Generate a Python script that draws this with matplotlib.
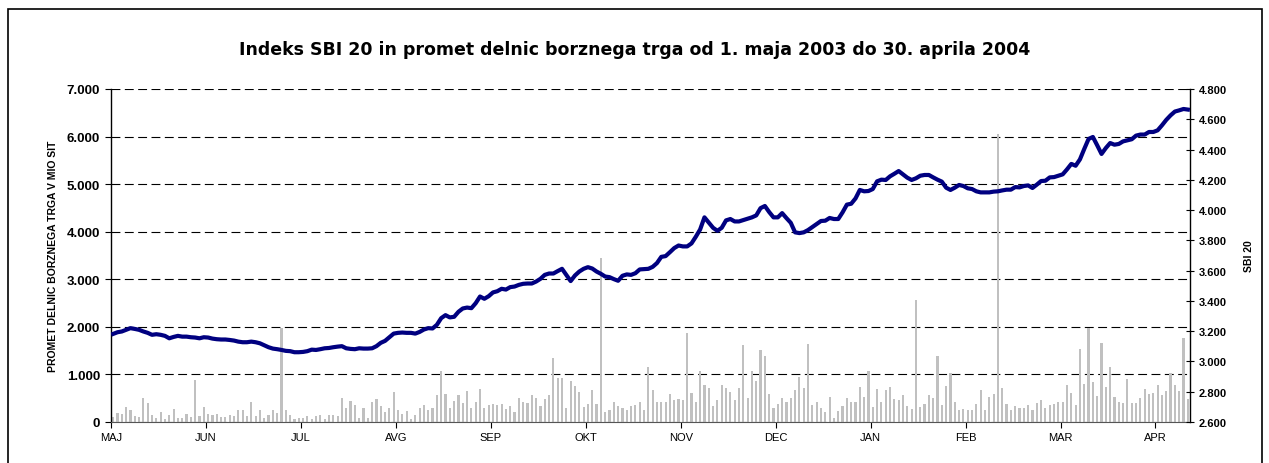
import numpy as np
import matplotlib
matplotlib.use("Agg")
import matplotlib.pyplot as plt
from matplotlib.patches import Rectangle
from matplotlib.ticker import FuncFormatter

plt.rcParams['font.family'] = ['Liberation Sans', 'DejaVu Sans']

# mesecne oznake (vsaka oznaka na 22 trgovalnih dni)
months = ['MAJ', 'JUN', 'JUL', 'AVG', 'SEP', 'OKT', 'NOV', 'DEC', 'JAN', 'FEB', 'MAR', 'APR']

# promet delnic v mio SIT (dnevno)
promet = [
    105, 190, 170, 325, 260, 125, 110, 513, 395, 140, 90, 220, 70, 155, 275, 90, 85, 170, 110, 890,
    125, 315, 170, 155, 170, 105, 110, 140, 125, 260, 260, 125, 410, 125, 260, 85, 140, 245, 195, 1980,
    260,
    140, 70, 85, 90, 125, 70, 125, 155, 70, 140, 155, 125, 513, 300, 445, 365, 90, 300, 90, 430,
    485, 335, 205, 290, 630, 260, 170, 230, 70, 140, 290, 365, 245, 300, 560, 1070, 590, 290, 445, 560,
    395, 645,
    290, 410, 695, 290, 350, 380, 365, 380, 275, 335, 220, 500, 430, 395, 575, 500, 335, 485, 560, 1350,
    935, 920, 300, 870, 765, 630, 315, 380, 670, 380, 3445, 220, 245, 430, 335, 300, 245, 335, 365, 420,
    245, 1160,
    670, 430, 430, 410, 590, 455, 485, 470, 1875, 620, 410, 1070, 785, 710, 335, 470, 775, 725, 630, 455,
    725, 1610, 513, 1070, 870, 1505, 1385, 590, 300, 380, 513, 430, 500, 680, 950, 725, 1650, 350, 430, 300,
    205,
    535, 90, 230, 335, 500, 420, 430, 740, 535, 1080, 325, 695, 420, 670, 740, 485, 455, 575, 335, 275,
    2565, 325, 380, 575, 513, 1385, 350, 765, 1040, 410, 245, 275, 245, 245, 380, 670, 245, 535, 590, 6045,
    725, 380,
    245, 335, 300, 290, 365, 245, 395, 455, 300, 365, 380, 420, 410, 785, 605, 365, 1540, 800, 1980, 845,
    555, 1670, 740, 1160, 535, 430, 395, 900, 395, 395, 513, 695, 590, 620, 785, 575, 660, 1040, 785, 645,
    1770, 485,
]

# indeks SBI 20
sbi20 = [
    3182, 3193, 3198, 3209, 3220, 3215, 3209, 3198, 3189, 3176, 3180, 3176, 3169, 3153, 3162, 3169, 3164, 3164, 3160, 3158,
    3153, 3160, 3158, 3151, 3147, 3145, 3145, 3142, 3138, 3131, 3127, 3127, 3131, 3127, 3120, 3107, 3094, 3085, 3081, 3076,
    3070,
    3068, 3061, 3061, 3063, 3068, 3078, 3076, 3081, 3087, 3089, 3094, 3098, 3101, 3087, 3083, 3081, 3087, 3085, 3085, 3087,
    3101, 3123, 3136, 3160, 3184, 3189, 3191, 3189, 3189, 3184, 3195, 3211, 3220, 3218, 3242, 3286, 3306, 3291, 3295, 3328,
    3350, 3356,
    3352, 3385, 3429, 3414, 3431, 3456, 3464, 3480, 3475, 3491, 3495, 3506, 3513, 3515, 3515, 3528, 3546, 3572, 3581, 3581,
    3597, 3612, 3572, 3531, 3568, 3594, 3612, 3623, 3614, 3594, 3579, 3561, 3557, 3544, 3533, 3566, 3575, 3572, 3583, 3608,
    3610, 3612,
    3625, 3650, 3691, 3696, 3722, 3749, 3766, 3760, 3760, 3780, 3824, 3872, 3952, 3918, 3883, 3863, 3883, 3932, 3941, 3925,
    3925, 3934, 3943, 3952, 3965, 4013, 4027, 3987, 3952, 3952, 3980, 3947, 3916, 3853, 3848, 3853, 3868, 3888, 3908, 3928,
    3930,
    3948, 3941, 3941, 3985, 4036, 4042, 4077, 4133, 4124, 4126, 4139, 4190, 4201, 4199, 4223, 4240, 4258, 4236, 4214, 4199,
    4210, 4227, 4232, 4232, 4216, 4201, 4188, 4148, 4133, 4148, 4166, 4159, 4144, 4139, 4124, 4117, 4117, 4117, 4122, 4124,
    4130, 4135,
    4135, 4152, 4150, 4159, 4163, 4146, 4168, 4192, 4194, 4216, 4218, 4227, 4236, 4269, 4305, 4293, 4335, 4404, 4470, 4483,
    4428, 4371, 4410, 4443, 4432, 4437, 4454, 4461, 4468, 4492, 4499, 4499, 4516, 4516, 4527, 4560, 4596, 4626, 4651, 4659,
    4668, 4664,
]

n = len(promet)
x = np.arange(n) + 0.5
dots = FuncFormatter(lambda v, p: '{:,.0f}'.format(v).replace(',', '.'))

fig = plt.figure(figsize=(12.69, 4.64), dpi=100)
fig.patches.append(Rectangle((7.5 / 1269, -0.05), 1254 / 1269, 1 - 10 / 464 + 0.05, transform=fig.transFigure,
                             fill=False, edgecolor='black', linewidth=1.2))

ax = fig.add_axes([111 / 1269, 1 - 423 / 464, 1079 / 1269, 333 / 464])
ax.bar(x, promet, width=0.5, color='#c0c0c0', zorder=2)
ax.set_xlim(0, n)
ax.set_ylim(0, 7000)
ax.set_yticks(np.arange(0, 7001, 1000))
ax.yaxis.set_major_formatter(dots)
ax.grid(axis='y', color='black', linestyle=(0, (8, 4)), linewidth=0.8, zorder=1)
ax.set_axisbelow(True)
ax.set_xticks(np.arange(0, n, 22))
ax.set_xticklabels(months)
ax.tick_params(axis='x', length=4, labelsize=8, pad=3)
ax.tick_params(axis='y', length=4, labelsize=9.5, pad=4)
for lab in ax.get_yticklabels():
    lab.set_fontweight('bold')
for s in ['top', 'right']:
    ax.spines[s].set_visible(False)
ax.spines['left'].set_linewidth(1)
ax.spines['bottom'].set_color('#555555')
ax.set_ylabel('PROMET DELNIC BORZNEGA TRGA V MIO SIT', fontsize=7.5, fontweight='bold', labelpad=6)

ax2 = ax.twinx()
ax2.plot(x, sbi20, color='#000080', linewidth=3, solid_joinstyle='round', zorder=3)
ax2.set_ylim(2600, 4800)
ax2.set_yticks(np.arange(2600, 4801, 200))
ax2.yaxis.set_major_formatter(dots)
ax2.tick_params(axis='y', direction='inout', length=6, labelsize=8)
for lab in ax2.get_yticklabels():
    lab.set_fontweight('bold')
for s in ['top', 'left', 'bottom']:
    ax2.spines[s].set_visible(False)
ax2.spines['right'].set_linewidth(1)
ax2.set_ylabel('SBI 20', fontsize=7.5, fontweight='bold', labelpad=12)

fig.text(635 / 1269, 1 - 50 / 464, 'Indeks SBI 20 in promet delnic borznega trga od 1. maja 2003 do 30. aprila 2004',
         ha='center', va='center', fontsize=12.5, fontweight='bold', family=['DejaVu Sans'])

fig.savefig('out.png', dpi=100)
